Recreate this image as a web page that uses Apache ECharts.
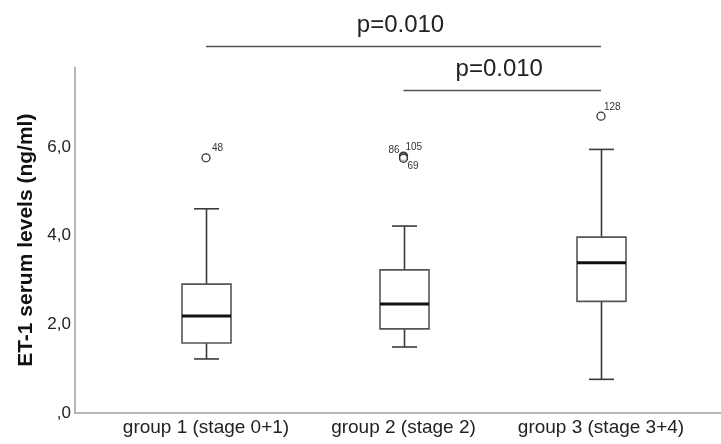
<!DOCTYPE html>
<html>
<head>
<meta charset="utf-8">
<script src="https://cdn.jsdelivr.net/npm/echarts@6/dist/echarts.min.js"></script>
<style>
  html, body { margin: 0; padding: 0; background: #fff; }
  #chart { width: 721px; height: 444px; }
</style>
</head>
<body>
<div id="chart"></div>
<script>
// ---- Data ----
const categories = ['group 1 (stage 0+1)', 'group 2 (stage 2)', 'group 3 (stage 3+4)'];
const boxMin    = [1.22, 1.49, 0.76];
const boxQ1     = [1.58, 1.90, 2.52];
const boxMedian = [2.19, 2.46, 3.39];
const boxQ3     = [2.91, 3.23, 3.97];
const boxMax    = [4.61, 4.22, 5.95];

const outlierGroup  = [0, 1, 1, 1, 2];
const outlierValues = [5.76, 5.80, 5.78, 5.75, 6.70];
const outlierIds    = ['48', '86', '105', '69', '128'];

const yTicks = [0, 2, 4, 6];
const yAxisTitle = 'ET-1 serum levels (ng/ml)';

const pFrom  = [0, 1];
const pTo    = [2, 2];
const pLevel = [8.28, 7.29];
const pText  = ['p=0.010', 'p=0.010'];

// ---- Styles / layout ----
const FONT = '"Liberation Sans", Arial, sans-serif';
const PX_PER_UNIT = 44.3;
const AXIS_Y = 413;           // pixel row of value 0
const BOTTOM = 444 - AXIS_Y;
const VIS_MAX = 7.8;
const DATA_MAX = 9.3;
const outlierLabelStyle = [
  { align: 'left',  offset: [6, -10] },
  { align: 'right', offset: [-4, -6] },
  { align: 'left',  offset: [2, -10] },
  { align: 'left',  offset: [4, 8] },
  { align: 'left',  offset: [3, -9] }
];

const boxData = categories.map((c, i) => [i, boxMin[i], boxQ1[i], boxMedian[i], boxQ3[i], boxMax[i]]);
const outlierData = outlierValues.map((v, i) => ({
  value: [outlierGroup[i], v],
  name: outlierIds[i],
  label: outlierLabelStyle[i]
}));
const pData = pFrom.map((f, i) => [f, pTo[i], pLevel[i]]);

const chart = echarts.init(document.getElementById('chart'), null, { renderer: 'canvas' });

const option = {
  animation: false,
  backgroundColor: '#ffffff',
  grid: [
    { left: 107.25, right: 21.25, top: AXIS_Y - DATA_MAX * PX_PER_UNIT, bottom: BOTTOM, containLabel: false },
    { left: 75, right: 0, top: AXIS_Y - VIS_MAX * PX_PER_UNIT, bottom: BOTTOM, containLabel: false }
  ],
  xAxis: [
    {
      type: 'category', gridIndex: 0, data: categories, boundaryGap: true,
      axisLine: { show: false }, axisTick: { show: false }, splitLine: { show: false },
      axisLabel: { color: '#222', fontFamily: FONT, fontSize: 19, margin: 5, interval: 0, hideOverlap: false }
    },
    {
      type: 'value', gridIndex: 1, min: 0, max: 1,
      axisLine: { show: true, lineStyle: { color: '#a0a0a0', width: 1.5 } },
      axisTick: { show: false }, axisLabel: { show: false }, splitLine: { show: false }
    }
  ],
  yAxis: [
    {
      type: 'value', gridIndex: 0, min: 0, max: DATA_MAX, show: false
    },
    {
      type: 'value', gridIndex: 1, min: 0, max: VIS_MAX, interval: 2,
      axisLine: { show: true, lineStyle: { color: '#a0a0a0', width: 1.5 } },
      axisTick: { show: false }, splitLine: { show: false },
      axisLabel: {
        color: '#222', fontFamily: FONT, fontSize: 17, margin: 4,
        customValues: yTicks,
        formatter: v => v === 0 ? ',0' : v.toFixed(1).replace('.', ',')
      },
      name: yAxisTitle, nameLocation: 'middle', nameGap: 37,
      nameTextStyle: { color: '#111', fontFamily: FONT, fontSize: 21, fontWeight: 'bold' }
    }
  ],
  series: [
    {
      type: 'custom', name: 'box', xAxisIndex: 0, yAxisIndex: 0,
      data: boxData,
      encode: { x: 0, y: [1, 2, 3, 4, 5] },
      renderItem: function (params, api) {
        const x = api.value(0);
        const pMin = api.coord([x, api.value(1)]);
        const pQ1 = api.coord([x, api.value(2)]);
        const pMed = api.coord([x, api.value(3)]);
        const pQ3 = api.coord([x, api.value(4)]);
        const pMax = api.coord([x, api.value(5)]);
        const cx = Math.round(pMed[0]) + 0.5;
        const bw = 49, cap = 25;
        const lineStyle = { stroke: '#3a3a3a', lineWidth: 1.6 };
        return {
          type: 'group',
          children: [
            { type: 'line', shape: { x1: cx, y1: pQ3[1], x2: cx, y2: pMax[1] }, style: lineStyle },
            { type: 'line', shape: { x1: cx, y1: pQ1[1], x2: cx, y2: pMin[1] }, style: lineStyle },
            { type: 'line', shape: { x1: cx - cap / 2, y1: pMax[1], x2: cx + cap / 2, y2: pMax[1] }, style: lineStyle },
            { type: 'line', shape: { x1: cx - cap / 2, y1: pMin[1], x2: cx + cap / 2, y2: pMin[1] }, style: lineStyle },
            { type: 'rect', shape: { x: cx - bw / 2, y: pQ3[1], width: bw, height: pQ1[1] - pQ3[1] },
              style: { fill: '#ffffff', stroke: '#555555', lineWidth: 1.6 } },
            { type: 'line', shape: { x1: cx - bw / 2, y1: pMed[1], x2: cx + bw / 2, y2: pMed[1] },
              style: { stroke: '#111111', lineWidth: 3 } }
          ]
        };
      },
      z: 2
    },
    {
      type: 'scatter', name: 'outliers', xAxisIndex: 0, yAxisIndex: 0,
      data: outlierData,
      symbol: 'circle', symbolSize: 8,
      itemStyle: { color: 'rgba(255,255,255,0.6)', borderColor: '#333333', borderWidth: 1.3, opacity: 1 },
      label: {
        show: true, position: 'inside', formatter: '{b}',
        color: '#333', fontFamily: FONT, fontSize: 10, verticalAlign: 'middle'
      },
      z: 3
    },
    {
      type: 'custom', name: 'pvalues', xAxisIndex: 0, yAxisIndex: 0,
      data: pData,
      encode: { x: [0, 1], y: 2 },
      renderItem: function (params, api) {
        const a = api.coord([api.value(0), api.value(2)]);
        const b = api.coord([api.value(1), api.value(2)]);
        const y = Math.round(a[1]) + 0.5;
        return {
          type: 'group',
          children: [
            { type: 'line', shape: { x1: a[0], y1: y, x2: b[0], y2: y }, style: { stroke: '#555', lineWidth: 1.4 } },
            { type: 'text', x: (a[0] + b[0]) / 2 - 3, y: y - 21,
              style: { text: pText[params.dataIndex], fill: '#222', font: '24px ' + FONT,
                       textAlign: 'center', textVerticalAlign: 'middle' } }
          ]
        };
      },
      z: 4
    }
  ]
};
chart.setOption(option);
</script>
</body>
</html>
